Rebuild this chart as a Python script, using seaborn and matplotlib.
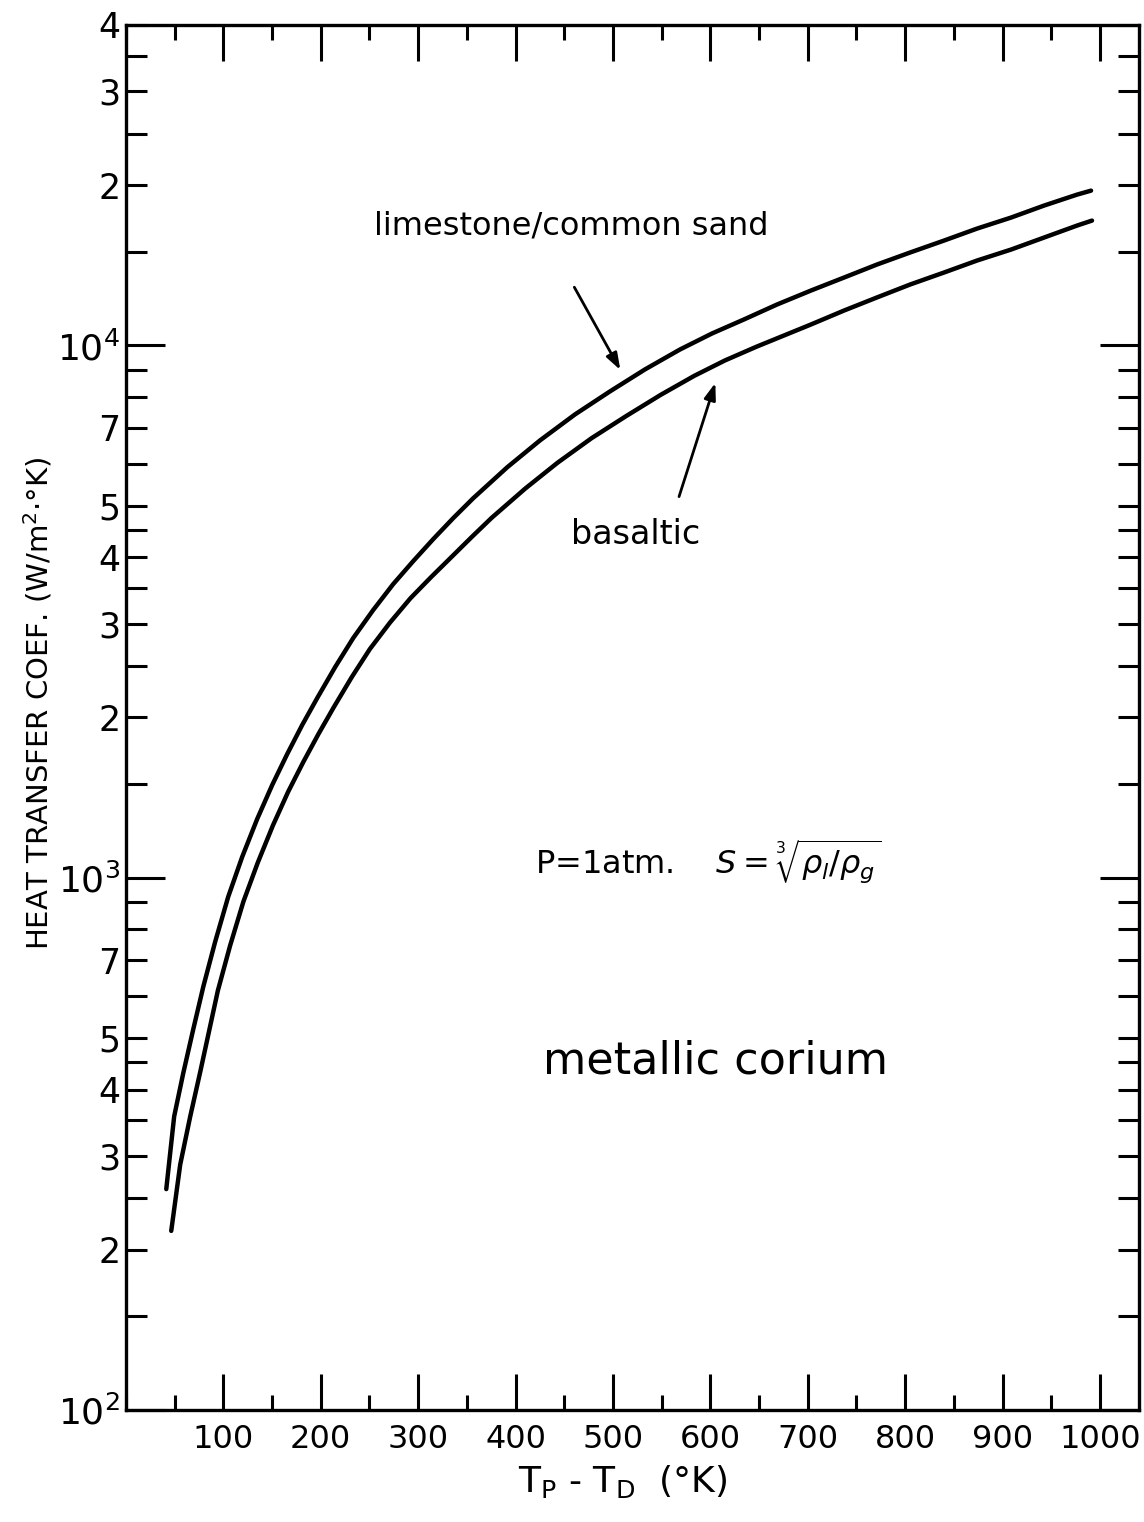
import numpy as np
import pandas as pd
import matplotlib
matplotlib.use("Agg")
import matplotlib.pyplot as plt
import matplotlib.ticker as mticker
import seaborn as sns

# curves (x = Tp-Td in K, h in W/m2-K)
lime_x = [41.5, 49.6, 58.9, 69.2, 79.5, 91.7, 105.1, 119.5, 134.9, 150.3, 165.7, 181.1, 196.5,
          214.9, 233.4, 253.9, 274.4, 295.0, 315.5, 336.0, 356.6, 391.5, 425.3, 461.2, 497.1,
          533.0, 569.0, 601.8, 634.6, 668.5, 703.4, 737.3, 771.1, 805.0, 839.9, 873.8, 908.7,
          942.5, 976.4, 990.8]
lime_y = [260, 356, 429, 519, 624, 758, 921, 1095, 1290, 1494, 1708, 1937, 2176,
          2488, 2820, 3183, 3560, 3933, 4325, 4736, 5163, 5903, 6634, 7422, 8199,
          9016, 9829, 10532, 11190, 11937, 12682, 13414, 14191, 14946, 15740, 16577, 17386,
          18310, 19200, 19535]
basalt_x = [46.6, 55.8, 66.1, 76.4, 94.5, 107.0, 120.7, 135.4, 151.0, 166.6, 182.2, 197.8,
            213.4, 232.0, 250.5, 271.2, 292.3, 313.3, 334.7, 355.4, 375.6, 410.1, 443.2, 478.2,
            513.5, 548.8, 583.4, 614.9, 647.1, 703.4, 737.3, 771.1, 805.0, 839.9, 873.8, 908.7,
            942.5, 976.4, 991.8]
basalt_y = [217, 289, 356, 432, 614, 745, 902, 1067, 1254, 1450, 1650, 1863,
            2090, 2383, 2689, 3016, 3352, 3670, 4011, 4372, 4745, 5386, 6021, 6697,
            7365, 8070, 8765, 9369, 9940, 10950, 11630, 12307, 13013, 13708, 14437, 15139,
            15944, 16794, 17161]

x_ticks = [100, 200, 300, 400, 500, 600, 700, 800, 900, 1000]
y_labelled = [2, 3, 4, 5, 7]

df = pd.concat([
    pd.DataFrame({"dT": lime_x, "h": lime_y, "material": "limestone/common sand"}),
    pd.DataFrame({"dT": basalt_x, "h": basalt_y, "material": "basaltic"}),
])

sns.set_style("ticks")
plt.rcParams["font.family"] = ["DejaVu Sans"]
plt.rcParams["mathtext.fontset"] = "dejavusans"
plt.rcParams["text.color"] = "black"
plt.rcParams["axes.labelcolor"] = "black"

fig = plt.figure(figsize=(11.44, 15.22), dpi=100)
ax = fig.add_axes([0.110, 0.0736, 0.8856, 0.910])

sns.lineplot(data=df, x="dT", y="h", hue="material", palette=["black", "black"],
             linewidth=3.2, legend=False, errorbar=None, ax=ax)

ax.set_yscale("log")
ax.set_xlim(0, 1040)
ax.set_ylim(100, 40000)

ax.xaxis.set_major_locator(mticker.FixedLocator(x_ticks))
ax.xaxis.set_minor_locator(mticker.MultipleLocator(50))
ax.yaxis.set_major_locator(mticker.LogLocator(base=10, numticks=10))
ax.yaxis.set_minor_locator(mticker.LogLocator(base=10, subs=[1.5, 2, 2.5, 3, 3.5, 4, 4.5, 5, 6, 7, 8, 9],
                                              numticks=30))


def minor_fmt(v, pos):
    d = v / 10 ** np.floor(np.log10(v) + 1e-9)
    for k in y_labelled:
        if abs(d - k) < 1e-6:
            return str(k)
    return ""


ax.yaxis.set_minor_formatter(mticker.FuncFormatter(minor_fmt))
ax.yaxis.set_major_formatter(mticker.LogFormatterMathtext())

ax.tick_params(which="both", direction="in", top=True, right=True, width=2.2, colors="black")
ax.tick_params(axis="x", which="major", length=26, pad=10, labelsize=23)
ax.tick_params(axis="x", which="minor", length=11)
ax.tick_params(axis="y", which="major", length=28, pad=4, labelsize=26)
ax.tick_params(axis="y", which="minor", length=15, pad=4, labelsize=25)
for s in ax.spines.values():
    s.set_linewidth(2.4)
    s.set_color("black")

ax.set_xlabel("T$_\\mathrm{P}$ - T$_\\mathrm{D}$  (°K)", fontsize=26)
ax.xaxis.set_label_coords(0.49, -0.038)
ax.set_ylabel("HEAT TRANSFER COEF. (W/m$^2$·°K)", fontsize=21)
ax.yaxis.set_label_coords(-0.07, 0.51)

# annotations
arrow = dict(arrowstyle="-|>,head_length=1.0,head_width=0.35", color="black", lw=2)
ax.text(457, 16790, "limestone/common sand", fontsize=23, ha="center", va="center")
ax.annotate("", xy=(509, 8900), xytext=(459, 13000), arrowprops=arrow)
ax.text(523, 4405, "basaltic", fontsize=24, ha="center", va="center")
ax.annotate("", xy=(606, 8600), xytext=(567, 5140), arrowprops=arrow)
ax.text(420, 1072, "P=1atm.    $S=\\sqrt[3]{\\rho_l/\\rho_g}$", fontsize=23, ha="left", va="center")
ax.text(428, 452, "metallic corium", fontsize=32, ha="left", va="center")

fig.savefig("out.png", dpi=100, facecolor="white")
